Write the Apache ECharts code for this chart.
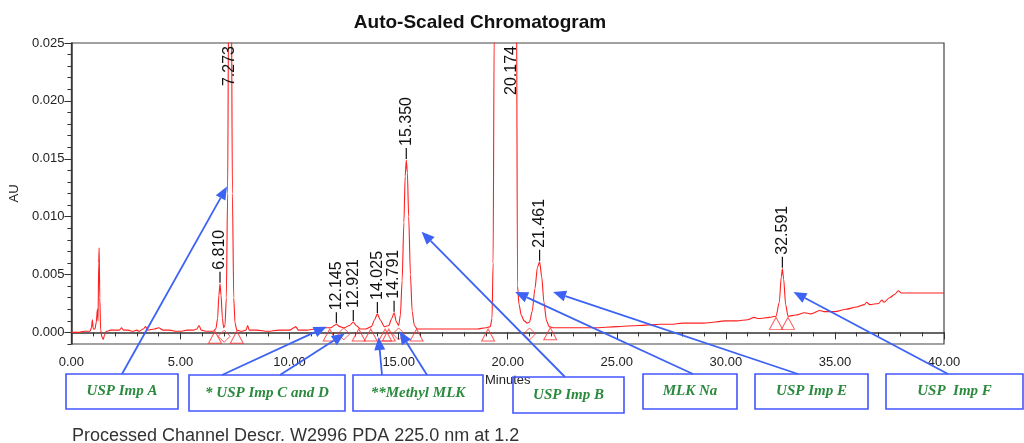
<!DOCTYPE html>
<html><head><meta charset="utf-8">
<script src="https://cdn.jsdelivr.net/npm/echarts@6.0.0/dist/echarts.min.js"></script>
<style>html,body{margin:0;padding:0;background:#fff}#chart{width:1024px;height:443px}</style>
</head><body><div id="chart"></div>
<script>
// ---- data ----
const chromatogram = [
[0.00,0.0000],[0.30,0.0000],[0.60,0.0001],[0.85,0.0001],[0.92,0.0004],[0.96,0.0011],[1.00,0.0003],[1.08,0.0003],[1.14,0.0009],[1.19,0.0020],[1.22,0.0010],[1.25,0.0060],[1.27,0.0073],[1.30,0.0030],[1.34,0.0002],[1.40,-0.0004],[1.46,-0.0006],[1.52,-0.0002],[1.60,0.0001],[1.80,0.0002],[2.00,0.0002],[2.20,0.0002],[2.30,0.0004],[2.38,0.0002],[2.60,0.0002],[2.80,0.0001],[3.00,0.0002],[3.10,0.0001],[3.30,0.0003],[3.40,0.0005],[3.50,0.0002],[3.80,0.0003],[4.00,0.0004],[4.20,0.0002],[4.50,0.0002],[4.80,0.0001],[5.00,0.0001],[5.30,0.0002],[5.60,0.0002],[5.75,0.0003],[5.85,0.0006],[5.95,0.0002],[6.20,0.0001],[6.50,0.0001],
[6.62,0.0003],[6.70,0.0012],[6.76,0.0032],[6.81,0.0042],[6.86,0.0032],[6.92,0.0012],[6.98,0.0004],[7.04,0.0006],[7.10,0.0030],[7.16,0.0120],[7.21,0.0300],[7.273,0.0420],[7.33,0.0300],[7.38,0.0120],[7.44,0.0030],[7.50,0.0008],[7.58,0.0002],[7.80,0.0001],[8.00,0.0002],[8.08,0.0006],[8.15,0.0002],[8.50,0.0002],[9.00,0.0001],[9.50,0.0002],[10.00,0.0002],[10.20,0.0004],[10.28,0.0005],[10.40,0.0002],[10.80,0.0002],[11.20,0.0003],[11.60,0.0004],[11.90,0.0004],
[12.05,0.0006],[12.145,0.0007],[12.30,0.0005],[12.50,0.0004],[12.75,0.0006],[12.921,0.0009],[13.05,0.0006],[13.25,0.0003],[13.50,0.0003],[13.75,0.0005],[13.90,0.0011],[14.025,0.0016],[14.15,0.0011],[14.35,0.0005],[14.55,0.0006],[14.68,0.0012],[14.791,0.0017],[14.90,0.0009],[15.00,0.0006],[15.08,0.0015],[15.16,0.0045],[15.24,0.0095],[15.30,0.0135],[15.35,0.0149],[15.40,0.0138],[15.46,0.0100],[15.54,0.0050],[15.62,0.0018],[15.72,0.0006],[15.85,0.0003],[16.20,0.0003],[16.80,0.0003],[17.40,0.0003],[18.00,0.0003],[18.60,0.0003],[19.00,0.0004],[19.20,0.0005],
[19.28,0.0012],[19.33,0.0060],[19.38,0.0260],[19.45,0.0800],[19.70,0.3000],[20.174,0.4500],[20.33,0.2000],[20.40,0.0300],[20.45,0.0040],[20.52,0.0024],[20.62,0.0015],[20.75,0.0010],[20.90,0.0008],[21.00,0.0009],[21.12,0.0018],[21.25,0.0038],[21.36,0.0056],[21.461,0.0061],[21.56,0.0048],[21.66,0.0026],[21.78,0.0010],[21.90,0.0005],[22.10,0.0004],
[23.00,0.0004],[24.00,0.0004],[25.00,0.0005],[26.00,0.0006],[27.00,0.0007],[27.50,0.0007],[28.00,0.0008],[29.00,0.0008],[30.00,0.0010],[30.50,0.0010],[31.00,0.0011],[31.30,0.0013],[31.50,0.0012],[32.00,0.0013],[32.30,0.0014],[32.45,0.0026],[32.54,0.0048],[32.591,0.0055],[32.65,0.0046],[32.74,0.0024],[32.85,0.0014],[33.20,0.0015],[33.60,0.0017],[33.90,0.0016],[34.30,0.0019],[34.50,0.0018],[35.00,0.0018],[35.50,0.0020],[36.00,0.0022],[36.35,0.0024],[36.45,0.0026],[36.60,0.0024],[37.00,0.0025],[37.15,0.0028],[37.25,0.0026],[37.50,0.0030],[37.75,0.0033],[37.90,0.0036],[38.05,0.0034],[38.50,0.0034],[39.00,0.0034],[39.50,0.0034],[40.00,0.0034]
];
const peakLabels  = ['6.810','7.273','12.145','12.921','14.025','14.791','15.350','20.174','21.461','32.591'];
const peakTimes   = [6.810, 7.273, 12.145, 12.921, 14.025, 14.791, 15.350, 20.174, 21.461, 32.591];
const peakHeights = [0.0042,0.0420,0.0007,0.0009,0.0016,0.0017,0.0149,0.4500,0.0061,0.0055];
// integration marks: baseline start/end (triangle) and valley (diamond)
const triangleTimes  = [6.58, 7.58, 11.84, 13.17, 13.72, 14.38, 14.55, 15.82, 19.10, 21.95, 32.30, 32.85];
const triangleValues = [0.0001,0.0001,0.0003,0.0003,0.0003,0.0003,0.0003,0.0003,0.0003,0.0004,0.0013,0.0013];
const diamondTimes   = [7.00, 12.48, 15.00, 21.00];
const diamondValues  = [0.0001, 0.0003, 0.0003, 0.0003];
const xTickLabels = [0,5,10,15,20,25,30,35,40];
const yTickLabels = [0,0.005,0.010,0.015,0.020,0.025];
const boxLabels = ['USP Imp A','* USP Imp C and D','**Methyl MLK','USP Imp B','MLK Na','USP Imp E','USP  Imp F'];

// ---- layout (annotation geometry) ----
const boxRects = [[66,374,112,35],[189,375,156,36],[353,375,130,36],[513,377,111,36],[643,374,94,35],[755,374,113,35],[886,374,137,35]];
// [tailX, tailY, tipTime, tipAU]
const arrows = [
  [122,374, 7.13, 0.0126],
  [222,375, 11.70, 0.0005],
  [280,375, 12.53, -0.0001],
  [382,375, 14.08, -0.0004],
  [427,375, 15.04, 0.0001],
  [565,377, 16.05, 0.0087],
  [693,374, 20.34, 0.0035],
  [798,374, 22.08, 0.0035],
  [948,374, 33.10, 0.0035]
];

const chart = echarts.init(document.getElementById('chart'), null, {renderer:'canvas'});
const axisColor = '#333';
const labelFont = {fontFamily:'Arial, Liberation Sans, sans-serif', fontSize:13, color:'#222'};
const option = {
  animation:false,
  backgroundColor:'#fff',
  grid:{left:69, right:80, top:43, bottom:99, show:true, borderColor:'#444', borderWidth:1.2, backgroundColor:'transparent'},
  xAxis:{
    type:'value', min:0, max:40, interval:5,
    name:'Minutes', nameLocation:'middle', nameGap:25,
    nameTextStyle:{fontFamily:'Arial, Liberation Sans, sans-serif', fontSize:13, color:'#222'},
    axisLine:{show:true, lineStyle:{color:axisColor, width:1.5}},
    axisTick:{show:true, length:7, lineStyle:{color:axisColor}},
    minorTick:{show:true, splitNumber:5, length:4, lineStyle:{color:axisColor}},
    axisLabel:Object.assign({margin:12, formatter:v=>v.toFixed(2), customValues:xTickLabels}, labelFont),
    splitLine:{show:false}, minorSplitLine:{show:false}
  },
  yAxis:[{
    type:'value', min:-0.001, max:0.025, position:'left',
    name:'AU', nameLocation:'middle', nameGap:44, nameRotate:90,
    nameTextStyle:{fontFamily:'Arial, Liberation Sans, sans-serif', fontSize:13, color:'#222'},
    axisLine:{show:true, lineStyle:{color:axisColor, width:1.5}},
    axisTick:{show:true, length:7, customValues:yTickLabels, lineStyle:{color:axisColor}},
    axisLabel:Object.assign({margin:7, formatter:v=>v.toFixed(3), customValues:yTickLabels}, labelFont),
    splitLine:{show:false}
  },{
    type:'value', min:-0.001, max:0.025, interval:0.001, position:'left',
    axisLine:{show:false}, axisLabel:{show:false},
    axisTick:{show:true, length:4, lineStyle:{color:axisColor}},
    splitLine:{show:false}
  }],
  series:[
    {type:'line', data:chromatogram, showSymbol:false, smooth:0.25, smoothMonotone:'x',
     lineStyle:{color:'#ff1f1f', width:1.1}, clip:true, z:3},
    {type:'scatter', data:triangleTimes.map((t,i)=>[t,triangleValues[i]]), symbol:'triangle', symbolSize:[13,12], symbolOffset:[0,6],
     itemStyle:{color:'rgba(0,0,0,0)', borderColor:'#ff3030', borderWidth:1}, silent:true, z:4, clip:false},
    {type:'scatter', data:diamondTimes.map((t,i)=>[t,diamondValues[i]]), symbol:'diamond', symbolSize:[12,12], symbolOffset:[0,5],
     itemStyle:{color:'rgba(0,0,0,0)', borderColor:'#ff3030', borderWidth:1}, silent:true, z:4, clip:false},
    {type:'custom', data:peakTimes.map((t,i)=>[t,peakHeights[i]]), z:5, clip:false,
     renderItem:function(params, api){
       const t = api.value(0), h = api.value(1);
       const p = api.coord([t,h]);
       const top = params.coordSys.y;
       const txt = peakLabels[params.dataIndex];
       const font = '16px Arial, "Liberation Sans", sans-serif';
       if (h > 0.025) {
         return {type:'text', x:p[0], y:top+3, rotation:Math.PI/2,
           style:{text:txt, x:0, y:0, align:'right', verticalAlign:'middle', font:font, fill:'#111'}};
       }
       return {type:'group', children:[
         {type:'line', shape:{x1:p[0], y1:p[1]-1, x2:p[0], y2:p[1]-12}, style:{stroke:'#111', lineWidth:1.2}},
         {type:'text', x:p[0], y:p[1]-14, rotation:Math.PI/2,
           style:{text:txt, x:0, y:0, align:'left', verticalAlign:'middle', font:font, fill:'#111'}}
       ]};
     }}
  ]
};
chart.setOption(option);

// annotations: title, footer, boxes, arrows
const g = [];
g.push({type:'text', x:480, y:23, style:{text:'Auto-Scaled Chromatogram', align:'center', verticalAlign:'middle',
  font:'bold 19px Arial, "Liberation Sans", sans-serif', fill:'#111'}});
g.push({type:'text', x:72, y:436, style:{text:'Processed Channel Descr. W2996 PDA 225.0 nm at 1.2', align:'left', verticalAlign:'middle',
  font:'18px Arial, "Liberation Sans", sans-serif', fill:'#333'}});
boxLabels.forEach((lab,i)=>{
  const r = boxRects[i];
  g.push({type:'rect', shape:{x:r[0], y:r[1], width:r[2], height:r[3]}, style:{fill:'rgba(0,0,0,0)', stroke:'#4455ff', lineWidth:1.6}, z:10});
  g.push({type:'text', x:r[0]+r[2]/2, y:r[1]+r[3]/2, style:{text:lab, align:'center', verticalAlign:'middle',
    font:'italic bold 15px "Liberation Serif", "DejaVu Serif", serif', fill:'#2b8a3e'}, z:10});
});
arrows.forEach(a=>{
  const tip = chart.convertToPixel({xAxisIndex:0, yAxisIndex:0}, [a[2], a[3]]);
  const dx = tip[0]-a[0], dy = tip[1]-a[1];
  const len = Math.sqrt(dx*dx+dy*dy), ux = dx/len, uy = dy/len;
  const hl = 13, hw = 5.5;
  const bx = tip[0]-ux*hl, by = tip[1]-uy*hl;
  g.push({type:'line', shape:{x1:a[0], y1:a[1], x2:bx, y2:by}, style:{stroke:'#3d63f5', lineWidth:1.8}, z:11});
  g.push({type:'polygon', shape:{points:[[tip[0],tip[1]],[bx-uy*hw, by+ux*hw],[bx+uy*hw, by-ux*hw]]}, style:{fill:'#3d63f5'}, z:11});
});
chart.setOption({graphic:{elements:g}});
</script></body></html>
